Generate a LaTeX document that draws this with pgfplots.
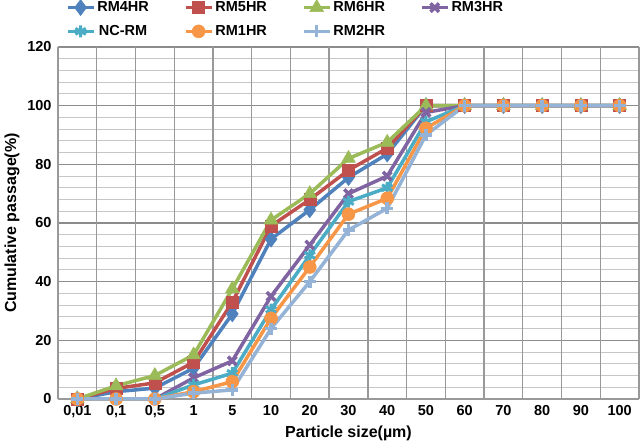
\documentclass[border=0pt]{standalone}
\usepackage{fontspec}
\setmainfont{Liberation Sans}
\usepackage{pgfplots}
\pgfplotsset{compat=1.18}
\definecolor{cA}{HTML}{4F81BD}
\definecolor{cB}{HTML}{C0504D}
\definecolor{cC}{HTML}{9BBB59}
\definecolor{cD}{HTML}{8064A2}
\definecolor{cE}{HTML}{4BACC6}
\definecolor{cF}{HTML}{F79646}
\definecolor{cG}{HTML}{95B3D7}
\begin{document}
\begin{tikzpicture}
\begin{axis}[
  scale only axis, width=581pt, height=352pt,
  xmin=-0.5, xmax=14.5, ymin=0, ymax=120,
  xtick={0,...,14},
  xticklabels={{0,01},{0,1},{0,5},1,5,10,20,30,40,50,60,70,80,90,100},
  major x tick style={draw=none},
  extra x ticks={-0.5,0.5,...,14.5},
  extra x tick labels={},
  extra x tick style={grid=major, major grid style={color=black!40, line width=1.3pt}, major tick length=5pt, tick align=outside, tick style={color=black!40, line width=1.3pt}},
  ytick={0,20,...,120},
  minor y tick num=4,
  ymajorgrids, yminorgrids,
  major y grid style={color=black!45, line width=1.5pt},
  minor y grid style={color=black!22, line width=1pt},
  y tick style={draw=none},
  minor y tick style={draw=none},
  axis line style={color=black!40, line width=1.3pt},
  axis x line*=bottom, axis y line*=left,
  /pgf/number format/assume math mode=true,
  tick label style={font=\fontsize{14.5}{16}\selectfont\bfseries},
  yticklabel style={xshift=-3pt},
  xticklabel style={yshift=-3pt},
  xlabel={Particle size(µm)},
  ylabel={Cumulative passage(\%)},
  label style={font=\fontsize{16}{18}\selectfont\bfseries},
  x label style={at={(axis description cs:0.5,-0.097)}, anchor=center},
  y label style={at={(axis description cs:-0.079,0.5)}, anchor=center},
  clip=false,
  legend columns=4,
  legend style={at={(axis description cs:0.008,1.141)}, anchor=north west, draw=none, fill=none,
    font=\fontsize{14.5}{16}\selectfont\bfseries, row sep=8pt,
    /tikz/every even column/.append style={column sep=33pt}},
  legend image code/.code={\draw[mark repeat=2,mark phase=2] plot coordinates {(0pt,0pt) (13pt,0pt) (26pt,0pt)};},
  every axis plot/.append style={line width=3.5pt, mark options={solid}},
]
\addplot[color=cA, mark=diamond*, mark size=8pt, mark options={line width=0.5pt}] coordinates {(0,0)(1,2.5)(2,3.7)(3,10.5)(4,29)(5,54.5)(6,64.5)(7,75.5)(8,83.5)(9,100)(10,100)(11,100)(12,100)(13,100)(14,100)};
\addlegendentry{RM4HR}
\addplot[color=cB, mark=square*, mark size=6pt, mark options={line width=0.5pt}] coordinates {(0,0)(1,3.6)(2,5.5)(3,12.5)(4,33)(5,59)(6,68)(7,78)(8,85.5)(9,100)(10,100)(11,100)(12,100)(13,100)(14,100)};
\addlegendentry{RM5HR}
\addplot[color=cC, mark=triangle*, mark size=8pt, mark options={line width=0.5pt}] coordinates {(0,0)(1,4.5)(2,8)(3,15)(4,37.5)(5,61)(6,70)(7,82)(8,87.5)(9,100)(10,100)(11,100)(12,100)(13,100)(14,100)};
\addlegendentry{RM6HR}
\addplot[color=cD, mark=x, mark size=6pt, mark options={line width=3.5pt}] coordinates {(0,0)(1,0)(2,0)(3,7.2)(4,13)(5,35)(6,52.5)(7,70)(8,76)(9,97.7)(10,100)(11,100)(12,100)(13,100)(14,100)};
\addlegendentry{RM3HR}
\addplot[color=cE, mark=asterisk, mark size=6pt, mark options={line width=3pt}] coordinates {(0,0)(1,0)(2,0)(3,4.8)(4,8.8)(5,30.5)(6,49)(7,67.3)(8,72)(9,94.5)(10,100)(11,100)(12,100)(13,100)(14,100)};
\addlegendentry{NC-RM}
\addplot[color=cF, mark=*, mark size=6.5pt, mark options={line width=0.5pt}] coordinates {(0,0)(1,0)(2,0)(3,2.5)(4,5.9)(5,27.5)(6,45)(7,63)(8,68.4)(9,92.3)(10,100)(11,100)(12,100)(13,100)(14,100)};
\addlegendentry{RM1HR}
\addplot[color=cG, mark=+, mark size=6pt, mark options={line width=3.5pt}] coordinates {(0,0)(1,0)(2,0)(3,2)(4,3.1)(5,24)(6,40)(7,57.6)(8,65)(9,90)(10,100)(11,100)(12,100)(13,100)(14,100)};
\addlegendentry{RM2HR}
\coordinate (sw) at (rel axis cs:0,0);
\coordinate (ne) at (rel axis cs:1,1);
\end{axis}
\pgfresetboundingbox
\path ([shift={(-58pt,-45pt)}]sw) rectangle ([shift={(1pt,47pt)}]ne);
\end{tikzpicture}
\end{document}
